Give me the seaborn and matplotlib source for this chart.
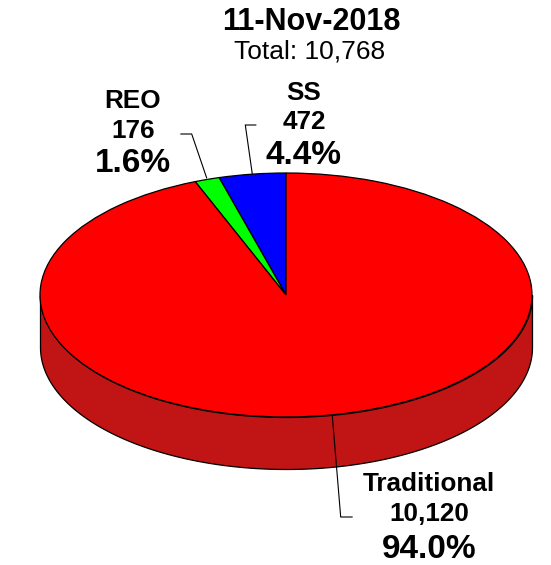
import numpy as np
import matplotlib
matplotlib.use("Agg")
import matplotlib.pyplot as plt
import seaborn as sns

# Data, in the order the slices run from 12 o'clock
categories = ["SS", "REO", "Traditional"]
counts = [472, 176, 10120]
count_labels = ["472", "176", "10,120"]
percent_labels = ["4.4%", "1.6%", "94.0%"]
title = "11-Nov-2018"
subtitle = "Total: 10,768"

colors = ["#0000FF", "#00FF00", "#FF0000"]
side_color = "#C11414"

sns.set_theme(style="white")
plt.rcParams["font.family"] = ["Liberation Sans", "DejaVu Sans"]

fig = plt.figure(figsize=(5.51, 5.65), dpi=100)

# Pie geometry in pixels
cx, cy, rx, ry, depth = 286, 295, 246, 122, 52
W, H = 551, 565

# Pie axes: unit circle squashed into an ellipse by the axes shape
ax = fig.add_axes([(cx - rx) / W, (H - (cy + ry + depth)) / H, 2 * rx / W, (2 * ry + depth) / H])

# Side wall of the disc
t = np.linspace(np.pi, 2 * np.pi, 300)
d = depth / ry
ax.fill_between(np.cos(t), np.sin(t), np.sin(t) - d, color=side_color, ec="black", lw=0.9, clip_on=False)

ax.pie(
    counts,
    colors=colors,
    startangle=90,
    counterclock=True,
    frame=True,
    wedgeprops={"edgecolor": "black", "linewidth": 0.9, "clip_on": False},
)
ax.set_aspect("auto")
ax.set_xlim(-1, 1)
ax.set_ylim(-1 - d, 1)
ax.axis("off")

# Overlay axes in pixel units for the labels and leader lines
lab = fig.add_axes([0, 0, 1, 1])
lab.set_xlim(0, W)
lab.set_ylim(H, 0)
lab.axis("off")
lab.patch.set_alpha(0)

lab.text(311, 21.5, title, ha="center", va="center", fontsize=22, fontweight="bold", color="black")
lab.text(310, 52, subtitle, ha="center", va="center", fontsize=19, color="black")

# Label centre x, then y of name / count / percent rows
label_pos = {
    "SS": (304, 92.5, 122, 156),
    "REO": (133, 101.5, 131, 164),
    "Traditional": (429, 484, 514, 549),
}
for name, cnt, pct in zip(categories, count_labels, percent_labels):
    x, y1, y2, y3 = label_pos[name]
    lab.text(x, y1, name, ha="center", va="center", fontsize=18.8, fontweight="bold", color="black")
    lab.text(x, y2, cnt, ha="center", va="center", fontsize=18.8, fontweight="bold", color="black")
    lab.text(x, y3, pct, ha="center", va="center", fontsize=24, fontweight="bold", color="black")

# Leader lines
lab.plot([252.3, 245.3, 256], [174, 125, 125], color="black", lw=0.8)
lab.plot([206.7, 191.7, 180.7], [178, 134, 134], color="black", lw=0.8)
lab.plot([332.3, 340.7, 352.3], [416, 517, 517], color="black", lw=0.8)

fig.savefig("out.png", dpi=100)
